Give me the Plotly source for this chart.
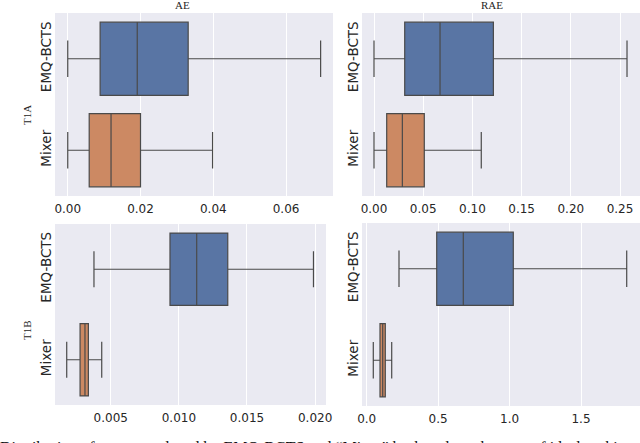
import plotly.graph_objects as go
from plotly.subplots import make_subplots

W, H = 640, 443

methods = ["EMQ-BCTS", "Mixer"]
colors = ["#5975A4", "#CC8963"]

# five-number summaries per method (EMQ-BCTS, Mixer)
t1a_ae_low = [0.0, 0.0]
t1a_ae_q1 = [0.0089, 0.0059]
t1a_ae_med = [0.0191, 0.0119]
t1a_ae_q3 = [0.0331, 0.0200]
t1a_ae_high = [0.0695, 0.0398]

t1a_rae_low = [0.0, 0.0]
t1a_rae_q1 = [0.0312, 0.0129]
t1a_rae_med = [0.0671, 0.0288]
t1a_rae_q3 = [0.1213, 0.0511]
t1a_rae_high = [0.2571, 0.1090]

t1b_ae_low = [0.00377, 0.00177]
t1b_ae_q1 = [0.00935, 0.00275]
t1b_ae_med = [0.01131, 0.00311]
t1b_ae_q3 = [0.01359, 0.00336]
t1b_ae_high = [0.01988, 0.00434]

t1b_rae_low = [0.226, 0.046]
t1b_rae_q1 = [0.490, 0.093]
t1b_rae_med = [0.676, 0.112]
t1b_rae_q3 = [1.026, 0.130]
t1b_rae_high = [1.820, 0.175]

ticks_t1a_ae = [0.0, 0.02, 0.04, 0.06]
ticks_t1a_rae = [0.0, 0.05, 0.10, 0.15, 0.20, 0.25]
ticks_t1b_ae = [0.005, 0.010, 0.015, 0.020]
ticks_t1b_rae = [0.0, 0.5, 1.0, 1.5]

col_titles = ["AE", "RAE"]
row_titles = ["T1A", "T1B"]

panels = [
    (1, 1, t1a_ae_low, t1a_ae_q1, t1a_ae_med, t1a_ae_q3, t1a_ae_high, ticks_t1a_ae, ".2f", [-0.0035, 0.0729]),
    (1, 2, t1a_rae_low, t1a_rae_q1, t1a_rae_med, t1a_rae_q3, t1a_rae_high, ticks_t1a_rae, ".2f", [-0.0122, 0.2703]),
    (2, 1, t1b_ae_low, t1b_ae_q1, t1b_ae_med, t1b_ae_q3, t1b_ae_high, ticks_t1b_ae, ".3f", [0.00091, 0.0208]),
    (2, 2, t1b_rae_low, t1b_rae_q1, t1b_rae_med, t1b_rae_q3, t1b_rae_high, ticks_t1b_rae, ".1f", [-0.033, 1.913]),
]

# pixel boxes of each axes: (left, right, top, bottom)
px_boxes = {
    (1, 1): (55, 333, 13, 196),
    (1, 2): (362, 640, 13, 196),
    (2, 1): (55, 326, 224, 405),
    (2, 2): (362, 640, 223, 406),
}

fig = make_subplots(rows=2, cols=2)

for row, col, low, q1, med, q3, high, ticks, fmt, xr in panels:
    for i, m in enumerate(methods):
        fig.add_trace(go.Box(
            y=[m], q1=[q1[i]], median=[med[i]], q3=[q3[i]],
            lowerfence=[low[i]], upperfence=[high[i]],
            orientation="h", width=0.8, whiskerwidth=0.5,
            fillcolor=colors[i], line=dict(color="#4a4a4a", width=1.2),
            boxpoints=False, showlegend=False, hoverinfo="skip",
        ), row=row, col=col)
    l, r, t, b = px_boxes[(row, col)]
    fig.update_xaxes(
        domain=[l / W, r / W], range=xr, tickvals=ticks, tickformat=fmt,
        showgrid=True, gridcolor="white", gridwidth=1, zeroline=False,
        showline=False, ticks="", automargin=False, ticklabelstandoff=4,
        tickfont=dict(family="DejaVu Sans", size=12, color="#262626"),
        row=row, col=col,
    )
    fig.update_yaxes(
        domain=[1 - b / H, 1 - t / H], categoryorder="array",
        categoryarray=methods[::-1], range=[-0.5, 1.5], tickangle=-90,
        showgrid=False, zeroline=False, showline=False, ticks="",
        automargin=False,
        tickfont=dict(family="DejaVu Sans", size=13.5, color="#262626"),
        row=row, col=col,
    )

serif = "Liberation Serif"
annotations = [
    dict(text=col_titles[0], x=182 / W, y=1 - 5 / H),
    dict(text=col_titles[1], x=492 / W, y=1 - 5 / H),
]
for a in annotations:
    a.update(xref="paper", yref="paper", showarrow=False, xanchor="center",
             yanchor="middle", font=dict(family=serif, size=11, color="#262626"))
    fig.add_annotation(**a)

for label, cy in zip(row_titles, [115, 330]):
    fig.add_annotation(text=label, x=27 / W, y=1 - cy / H, xref="paper", yref="paper",
                       showarrow=False, textangle=-90, xanchor="center", yanchor="middle",
                       font=dict(family=serif, size=11, color="#262626"))

# figure caption, cut by the bottom edge as in the source image
fig.add_annotation(
    text="Distribution of errors produced by EMQ-BCTS and \u201cMixer\u201d broken down by type of ideal ranking",
    x=-2 / W, y=1 - 437 / H, xref="paper", yref="paper", showarrow=False,
    xanchor="left", yanchor="top", font=dict(family=serif, size=16, color="#111111"),
)

fig.update_layout(
    width=W, height=H, margin=dict(l=0, r=0, t=0, b=0),
    paper_bgcolor="white", plot_bgcolor="#EAEAF2",
)

fig.write_html("out.html", config={"displayModeBar": False},
               post_script="document.body.style.margin='0';")
